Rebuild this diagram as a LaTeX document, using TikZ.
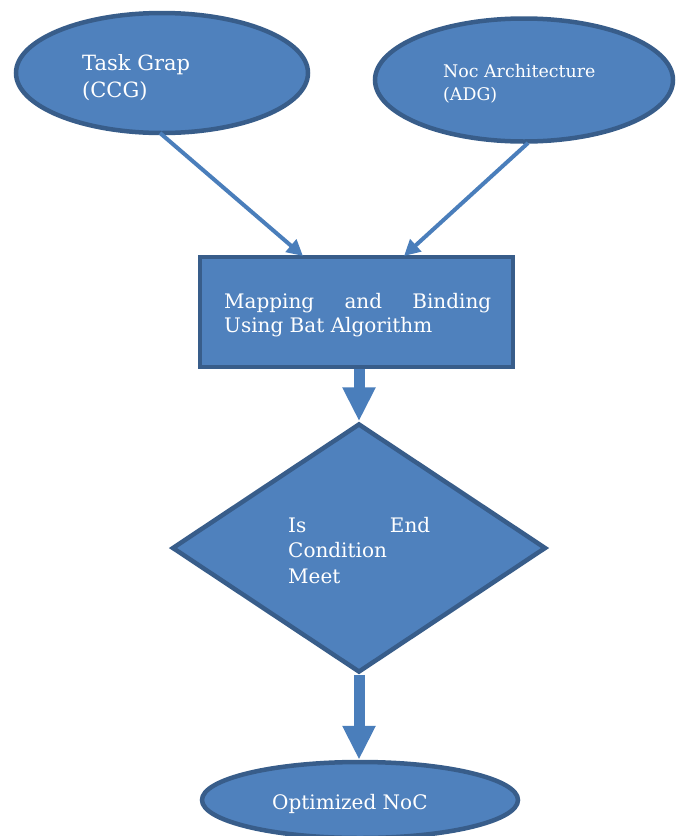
\documentclass[tikz,border=0pt]{standalone}
\usepackage{fontspec}
\setmainfont{DejaVu Serif}
\usetikzlibrary{shapes.geometric,arrows.meta}
\definecolor{fillblue}{HTML}{4F81BD}
\definecolor{edgeblue}{HTML}{385D8A}
\definecolor{arrowblue}{HTML}{4A7EBB}
\begin{document}
\begin{tikzpicture}[x=1pt,y=-1pt,
  shapebox/.style={draw=edgeblue,fill=fillblue,line width=4.5pt,inner sep=0pt},
  ell/.style={shapebox,ellipse},
  lbl/.style={text=white,anchor=base west,inner sep=0pt,font=\fontsize{20}{24}\selectfont},
  thinarrow/.style={draw=arrowblue,line width=4pt,-{Triangle[width=16pt,length=16pt]}},
  thickarrow/.style={draw=arrowblue,line width=11pt,-{Triangle[width=31pt,length=34pt]}}]
\useasboundingbox (0,0) rectangle (680,836);
% shapes
\node[ell,minimum width=292pt,minimum height=120pt] (e1) at (162,73) {};
\node[ell,minimum width=298pt,minimum height=123pt] (e2) at (524,80) {};
\node[shapebox,rectangle,minimum width=313pt,minimum height=110pt] (box) at (356.5,312) {};
\node[shapebox,diamond,minimum width=374pt,minimum height=249pt,shape aspect=1.5] (dia) at (359,548) {};
\node[ell,minimum width=316pt,minimum height=76pt] (e3) at (360,800) {};
% labels
\node[lbl,font=\fontsize{21}{24}\selectfont] (t1a) at (82,70) {Task Grap};
\node[lbl,font=\fontsize{21}{24}\selectfont] (t1b) at (82,97) {(CCG)};
\node[lbl,font=\fontsize{17.4}{20}\selectfont] (t2a) at (443,77) {Noc Architecture};
\node[lbl,font=\fontsize{17.4}{20}\selectfont] (t2b) at (443,100) {(ADG)};
\node[lbl] (t3a) at (224,308) {\hbox to 267pt{Mapping\hfill and\hfill Binding}};
\node[lbl] (t3b) at (224,332) {Using Bat Algorithm};
\node[lbl] (t4a) at (288,532) {\hbox to 142pt{Is\hfill End}};
\node[lbl] (t4b) at (288,557) {Condition};
\node[lbl] (t4c) at (288,583) {Meet};
\node[lbl] (t5) at (272,809) {Optimized NoC};
% connectors
\coordinate (a1s) at (160,133);
\coordinate (a1e) at (303,256);
\coordinate (a2s) at (528,143);
\coordinate (a2e) at (404,256);
\draw[thinarrow] (a1s) -- (a1e);
\draw[thinarrow] (a2s) -- (a2e);
\draw[thickarrow] (box.south -| dia.north) -- (dia.north);
\draw[thickarrow] (dia.south) -- (dia.south |- e3.north);
\end{tikzpicture}
\end{document}
